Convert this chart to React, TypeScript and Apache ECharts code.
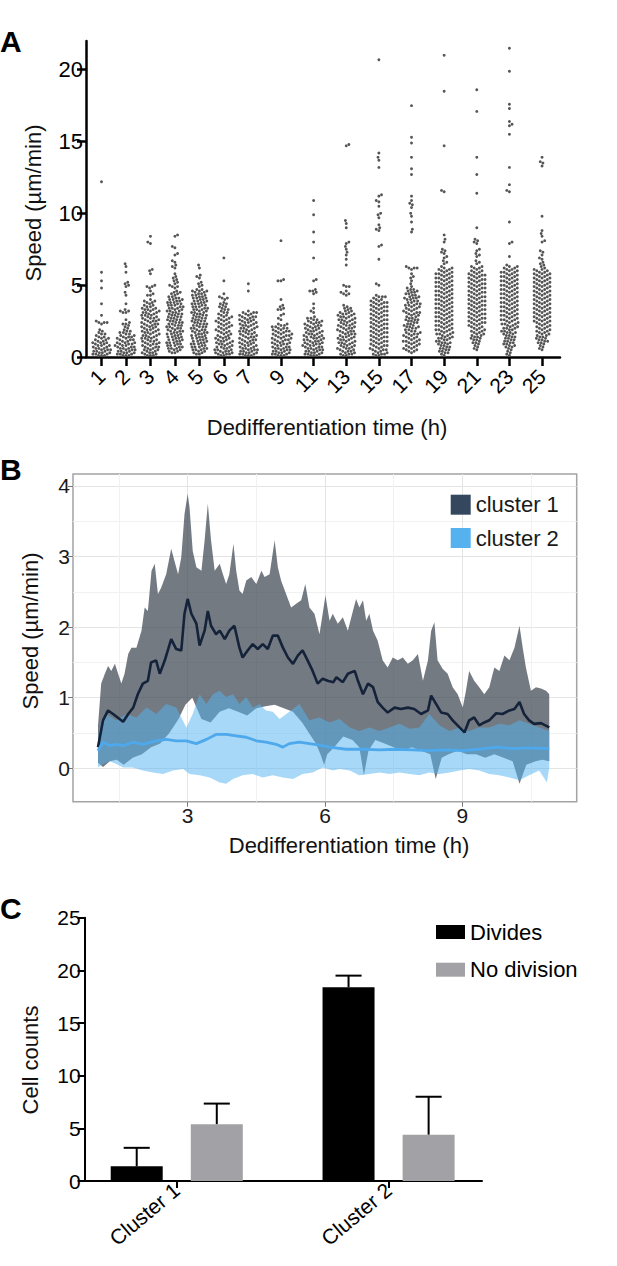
import React, { useEffect, useRef } from 'react';
import * as echarts from 'echarts';

const FONT = "'Liberation Sans', Arial, Helvetica, sans-serif";

// ---------------- Panel A: speed per dedifferentiation time (µm/min) ----------------
const hourLabels = ['1', '2', '3', '4', '5', '6', '7', '9', '11', '13', '15', '17', '19', '21', '23', '25'];

const speed1h = [12.2, 5.9, 5.3, 4.8, 3.7, 2.9, 2.5, 2.4, 2.4, 2.4, 2.3, 1.9, 1.8, 1.7, 1.6, 1.6, 1.5, 1.4, 1.4, 1.3, 1.3, 1.2, 1.2, 1.1, 1.1, 1.0, 1.0, 1.0, 0.9, 0.9, 0.8, 0.8, 0.8, 0.7, 0.7, 0.6, 0.6, 0.6, 0.5, 0.5, 0.5, 0.4, 0.4, 0.4, 0.3, 0.3, 0.3, 0.2, 0.2, 0.2, 0.1, 0.1, 0.1];
const speed2h = [6.5, 6.3, 5.9, 5.2, 5.1, 5.0, 4.9, 4.5, 4.3, 3.7, 3.3, 3.2, 3.2, 3.1, 3.1, 2.6, 2.4, 2.3, 2.3, 2.2, 2.1, 2.0, 1.9, 1.8, 1.8, 1.7, 1.7, 1.6, 1.6, 1.5, 1.5, 1.4, 1.4, 1.4, 1.3, 1.3, 1.2, 1.2, 1.2, 1.1, 1.1, 1.0, 1.0, 1.0, 0.9, 0.9, 0.9, 0.8, 0.8, 0.8, 0.7, 0.7, 0.7, 0.6, 0.6, 0.6, 0.5, 0.5, 0.5, 0.4, 0.4, 0.4, 0.3, 0.3, 0.3, 0.2, 0.2, 0.2, 0.1, 0.1, 0.1];
const speed3h = [8.4, 8.0, 7.9, 6.1, 6.0, 5.8, 5.0, 4.9, 4.9, 4.8, 4.6, 4.4, 4.3, 4.3, 4.0, 3.9, 3.9, 3.8, 3.8, 3.7, 3.6, 3.6, 3.5, 3.5, 3.4, 3.4, 3.3, 3.3, 3.3, 3.2, 3.2, 3.1, 3.1, 3.1, 3.0, 3.0, 2.9, 2.9, 2.9, 2.8, 2.8, 2.7, 2.7, 2.7, 2.6, 2.6, 2.5, 2.5, 2.5, 2.4, 2.4, 2.3, 2.3, 2.3, 2.2, 2.2, 2.1, 2.1, 2.1, 2.0, 2.0, 1.9, 1.9, 1.9, 1.8, 1.8, 1.7, 1.7, 1.7, 1.6, 1.6, 1.5, 1.5, 1.5, 1.4, 1.4, 1.3, 1.3, 1.3, 1.2, 1.2, 1.1, 1.1, 1.1, 1.0, 1.0, 0.9, 0.9, 0.9, 0.8, 0.8, 0.7, 0.7, 0.7, 0.6, 0.6, 0.5, 0.5, 0.5, 0.4, 0.4, 0.3, 0.3, 0.3, 0.2, 0.2, 0.1, 0.1, 0.1];
const speed4h = [8.5, 8.4, 7.7, 7.6, 7.2, 7.1, 6.7, 6.6, 6.4, 6.3, 6.2, 5.8, 5.6, 5.5, 5.4, 5.3, 5.2, 5.1, 5.0, 4.9, 4.9, 4.8, 4.6, 4.5, 4.5, 4.4, 4.4, 4.3, 4.2, 4.2, 4.1, 4.1, 4.0, 4.0, 4.0, 3.9, 3.9, 3.8, 3.8, 3.8, 3.7, 3.7, 3.6, 3.6, 3.6, 3.5, 3.5, 3.4, 3.4, 3.4, 3.3, 3.3, 3.2, 3.2, 3.2, 3.1, 3.1, 3.0, 3.0, 3.0, 2.9, 2.9, 2.8, 2.8, 2.8, 2.7, 2.7, 2.6, 2.6, 2.6, 2.5, 2.5, 2.4, 2.4, 2.4, 2.3, 2.3, 2.2, 2.2, 2.2, 2.1, 2.1, 2.0, 2.0, 2.0, 1.9, 1.9, 1.8, 1.8, 1.8, 1.7, 1.7, 1.6, 1.6, 1.6, 1.5, 1.5, 1.4, 1.4, 1.4, 1.3, 1.3, 1.2, 1.2, 1.2, 1.1, 1.1, 1.0, 1.0, 1.0, 0.9, 0.9, 0.8, 0.8, 0.8, 0.7, 0.7, 0.6, 0.6, 0.6, 0.5, 0.5, 0.4, 0.4, 0.3, 0.3];
const speed5h = [6.4, 6.2, 5.7, 5.6, 5.5, 5.2, 5.1, 5.0, 4.9, 4.7, 4.7, 4.6, 4.6, 4.6, 4.5, 4.5, 4.4, 4.4, 4.3, 4.3, 4.3, 4.2, 4.2, 4.1, 4.1, 4.1, 4.0, 4.0, 3.9, 3.9, 3.9, 3.8, 3.8, 3.7, 3.7, 3.7, 3.6, 3.6, 3.5, 3.5, 3.5, 3.4, 3.4, 3.3, 3.3, 3.3, 3.2, 3.2, 3.1, 3.1, 3.1, 3.0, 3.0, 2.9, 2.9, 2.9, 2.8, 2.8, 2.7, 2.7, 2.7, 2.6, 2.6, 2.5, 2.5, 2.5, 2.4, 2.4, 2.3, 2.3, 2.3, 2.2, 2.2, 2.1, 2.1, 2.1, 2.0, 2.0, 1.9, 1.9, 1.9, 1.8, 1.8, 1.7, 1.7, 1.7, 1.6, 1.6, 1.5, 1.5, 1.5, 1.4, 1.4, 1.3, 1.3, 1.3, 1.2, 1.2, 1.1, 1.1, 1.1, 1.0, 1.0, 0.9, 0.9, 0.9, 0.8, 0.8, 0.7, 0.7, 0.7, 0.6, 0.6, 0.5, 0.5, 0.5, 0.4, 0.4, 0.3, 0.3, 0.2, 0.2];
const speed6h = [6.9, 5.3, 4.4, 4.2, 4.1, 4.1, 4.0, 3.8, 3.7, 3.7, 3.6, 3.5, 3.5, 3.4, 3.3, 3.3, 3.2, 3.1, 3.1, 3.0, 2.9, 2.9, 2.8, 2.8, 2.7, 2.7, 2.6, 2.6, 2.5, 2.5, 2.4, 2.4, 2.3, 2.3, 2.2, 2.2, 2.1, 2.1, 2.0, 2.0, 1.9, 1.9, 1.8, 1.8, 1.7, 1.7, 1.6, 1.6, 1.5, 1.5, 1.4, 1.4, 1.3, 1.3, 1.3, 1.2, 1.2, 1.1, 1.1, 1.1, 1.0, 1.0, 0.9, 0.9, 0.9, 0.8, 0.8, 0.7, 0.7, 0.7, 0.6, 0.6, 0.5, 0.5, 0.5, 0.4, 0.4, 0.4, 0.3, 0.3, 0.3, 0.2, 0.2, 0.2, 0.1, 0.1];
const speed7h = [5.1, 4.6, 3.2, 3.1, 3.1, 3.1, 3.0, 3.0, 2.9, 2.9, 2.8, 2.8, 2.8, 2.7, 2.7, 2.6, 2.6, 2.6, 2.5, 2.5, 2.4, 2.4, 2.4, 2.3, 2.3, 2.2, 2.2, 2.2, 2.1, 2.1, 2.0, 2.0, 2.0, 1.9, 1.9, 1.8, 1.8, 1.8, 1.7, 1.7, 1.6, 1.6, 1.6, 1.5, 1.5, 1.4, 1.4, 1.4, 1.3, 1.3, 1.2, 1.2, 1.2, 1.1, 1.1, 1.0, 1.0, 1.0, 0.9, 0.9, 0.8, 0.8, 0.8, 0.7, 0.7, 0.6, 0.6, 0.6, 0.5, 0.5, 0.5, 0.4, 0.4, 0.4, 0.3, 0.3, 0.3, 0.2, 0.2, 0.2, 0.1, 0.1, 0.1];
const speed9h = [8.1, 5.4, 5.3, 5.3, 4.0, 3.6, 3.5, 3.4, 3.3, 3.3, 3.0, 2.9, 2.7, 2.6, 2.3, 2.3, 2.2, 2.2, 2.1, 2.1, 2.0, 2.0, 2.0, 1.9, 1.9, 1.8, 1.8, 1.8, 1.7, 1.7, 1.6, 1.6, 1.6, 1.5, 1.5, 1.5, 1.4, 1.4, 1.3, 1.3, 1.3, 1.2, 1.2, 1.2, 1.1, 1.1, 1.0, 1.0, 1.0, 0.9, 0.9, 0.9, 0.8, 0.8, 0.7, 0.7, 0.7, 0.6, 0.6, 0.6, 0.5, 0.5, 0.5, 0.4, 0.4, 0.4, 0.3, 0.3, 0.3, 0.2, 0.2, 0.2, 0.1, 0.1, 0.1];
const speed11h = [10.9, 9.9, 8.7, 8.0, 6.9, 5.4, 5.3, 4.7, 4.6, 4.6, 4.5, 4.4, 3.7, 3.4, 3.2, 3.1, 2.8, 2.7, 2.7, 2.6, 2.6, 2.5, 2.5, 2.4, 2.4, 2.4, 2.3, 2.3, 2.2, 2.2, 2.2, 2.1, 2.1, 2.0, 2.0, 2.0, 1.9, 1.9, 1.8, 1.8, 1.8, 1.7, 1.7, 1.6, 1.6, 1.6, 1.5, 1.5, 1.5, 1.4, 1.4, 1.4, 1.3, 1.3, 1.3, 1.2, 1.2, 1.2, 1.1, 1.1, 1.1, 1.0, 1.0, 1.0, 0.9, 0.9, 0.9, 0.8, 0.8, 0.8, 0.7, 0.7, 0.7, 0.6, 0.6, 0.6, 0.5, 0.5, 0.5, 0.4, 0.4, 0.4, 0.3, 0.3, 0.3, 0.2, 0.2, 0.2, 0.1, 0.1, 0.1];
const speed13h = [14.8, 14.7, 9.5, 9.3, 9.0, 8.0, 7.9, 7.7, 7.5, 7.3, 7.1, 6.8, 6.4, 5.0, 4.9, 4.9, 4.6, 4.5, 4.4, 4.4, 4.3, 3.6, 3.5, 3.4, 3.4, 3.3, 3.2, 3.2, 3.1, 3.1, 3.0, 3.0, 3.0, 2.9, 2.9, 2.8, 2.8, 2.8, 2.7, 2.7, 2.6, 2.6, 2.6, 2.5, 2.5, 2.4, 2.4, 2.4, 2.3, 2.3, 2.2, 2.2, 2.2, 2.1, 2.1, 2.0, 2.0, 2.0, 1.9, 1.9, 1.8, 1.8, 1.8, 1.7, 1.7, 1.6, 1.6, 1.6, 1.5, 1.5, 1.4, 1.4, 1.4, 1.3, 1.3, 1.2, 1.2, 1.2, 1.1, 1.1, 1.0, 1.0, 1.0, 0.9, 0.9, 0.8, 0.8, 0.8, 0.7, 0.7, 0.6, 0.6, 0.6, 0.5, 0.5, 0.4, 0.4, 0.4, 0.3, 0.3, 0.2, 0.2, 0.2, 0.1, 0.1];
const speed15h = [20.7, 14.2, 13.9, 13.7, 13.2, 11.3, 11.2, 10.9, 10.8, 10.5, 10.0, 9.9, 9.7, 9.2, 9.0, 8.9, 8.8, 7.8, 7.7, 6.8, 5.1, 5.0, 4.3, 4.2, 4.2, 4.2, 4.1, 4.0, 4.0, 3.9, 3.9, 3.8, 3.8, 3.8, 3.7, 3.7, 3.6, 3.6, 3.5, 3.5, 3.5, 3.4, 3.4, 3.3, 3.3, 3.2, 3.2, 3.2, 3.1, 3.1, 3.0, 3.0, 2.9, 2.9, 2.9, 2.8, 2.8, 2.7, 2.7, 2.6, 2.6, 2.6, 2.5, 2.5, 2.4, 2.4, 2.3, 2.3, 2.3, 2.2, 2.2, 2.1, 2.1, 2.0, 2.0, 2.0, 1.9, 1.9, 1.8, 1.8, 1.7, 1.7, 1.7, 1.6, 1.6, 1.5, 1.5, 1.4, 1.4, 1.4, 1.3, 1.3, 1.2, 1.2, 1.1, 1.1, 1.1, 1.0, 1.0, 0.9, 0.9, 0.8, 0.8, 0.8, 0.7, 0.7, 0.6, 0.6, 0.5, 0.5, 0.5, 0.4, 0.4, 0.3, 0.3, 0.2, 0.2, 0.2, 0.1, 0.1];
const speed17h = [17.5, 15.3, 14.9, 13.9, 13.1, 12.7, 11.2, 10.9, 10.7, 10.6, 10.4, 10.0, 9.8, 9.4, 8.9, 8.7, 6.3, 6.2, 6.2, 6.2, 6.1, 5.8, 5.6, 5.5, 5.3, 5.1, 4.9, 4.8, 4.7, 4.7, 4.6, 4.6, 4.5, 4.5, 4.4, 4.4, 4.3, 4.3, 4.2, 4.2, 4.1, 4.1, 4.1, 4.0, 4.0, 3.9, 3.9, 3.8, 3.8, 3.7, 3.7, 3.6, 3.6, 3.6, 3.5, 3.5, 3.4, 3.4, 3.3, 3.3, 3.2, 3.2, 3.1, 3.1, 3.1, 3.0, 3.0, 2.9, 2.9, 2.8, 2.8, 2.7, 2.7, 2.6, 2.6, 2.6, 2.5, 2.5, 2.4, 2.4, 2.3, 2.3, 2.2, 2.2, 2.1, 2.1, 2.1, 2.0, 2.0, 1.9, 1.9, 1.8, 1.8, 1.7, 1.7, 1.6, 1.6, 1.6, 1.5, 1.5, 1.4, 1.4, 1.3, 1.3, 1.2, 1.2, 1.1, 1.1, 1.1, 1.0, 1.0, 0.9, 0.9, 0.8, 0.8, 0.7, 0.7, 0.6, 0.6, 0.5, 0.5, 0.4, 0.4, 0.3];
const speed19h = [21.0, 18.5, 14.7, 11.6, 11.5, 8.5, 8.2, 8.0, 7.5, 7.4, 7.3, 7.2, 7.0, 6.9, 6.7, 6.6, 6.5, 6.3, 6.2, 6.2, 6.1, 6.1, 6.0, 6.0, 5.9, 5.9, 5.8, 5.8, 5.8, 5.7, 5.7, 5.6, 5.6, 5.5, 5.5, 5.5, 5.4, 5.4, 5.3, 5.3, 5.2, 5.2, 5.2, 5.1, 5.1, 5.0, 5.0, 4.9, 4.9, 4.9, 4.8, 4.8, 4.7, 4.7, 4.6, 4.6, 4.6, 4.5, 4.5, 4.4, 4.4, 4.3, 4.3, 4.3, 4.2, 4.2, 4.1, 4.1, 4.0, 4.0, 4.0, 3.9, 3.9, 3.8, 3.8, 3.7, 3.7, 3.7, 3.6, 3.6, 3.5, 3.5, 3.4, 3.4, 3.4, 3.3, 3.3, 3.2, 3.2, 3.1, 3.1, 3.1, 3.0, 3.0, 2.9, 2.9, 2.8, 2.8, 2.8, 2.7, 2.7, 2.6, 2.6, 2.5, 2.5, 2.5, 2.4, 2.4, 2.3, 2.3, 2.2, 2.2, 2.2, 2.1, 2.1, 2.0, 2.0, 1.9, 1.9, 1.9, 1.8, 1.8, 1.7, 1.7, 1.6, 1.6, 1.6, 1.5, 1.5, 1.4, 1.4, 1.3, 1.3, 1.3, 1.2, 1.2, 1.1, 1.1, 1.0, 1.0, 1.0, 0.9, 0.9, 0.8, 0.8, 0.7, 0.7, 0.6, 0.6, 0.5, 0.5, 0.4, 0.4, 0.3, 0.3, 0.2, 0.1];
const speed21h = [18.6, 17.1, 13.9, 12.7, 11.4, 9.0, 8.2, 8.1, 8.0, 7.9, 7.5, 7.4, 7.2, 7.1, 7.0, 6.7, 6.6, 6.5, 6.3, 6.3, 6.2, 6.2, 6.1, 6.0, 6.0, 5.9, 5.9, 5.8, 5.8, 5.7, 5.7, 5.7, 5.6, 5.6, 5.5, 5.5, 5.4, 5.4, 5.4, 5.3, 5.3, 5.2, 5.2, 5.1, 5.1, 5.1, 5.0, 5.0, 4.9, 4.9, 4.8, 4.8, 4.8, 4.7, 4.7, 4.6, 4.6, 4.5, 4.5, 4.5, 4.4, 4.4, 4.3, 4.3, 4.2, 4.2, 4.2, 4.1, 4.1, 4.0, 4.0, 3.9, 3.9, 3.9, 3.8, 3.8, 3.7, 3.7, 3.6, 3.6, 3.6, 3.5, 3.5, 3.4, 3.4, 3.3, 3.3, 3.3, 3.2, 3.2, 3.1, 3.1, 3.0, 3.0, 3.0, 2.9, 2.9, 2.8, 2.8, 2.7, 2.7, 2.7, 2.6, 2.6, 2.5, 2.5, 2.4, 2.4, 2.4, 2.3, 2.3, 2.2, 2.2, 2.1, 2.1, 2.0, 2.0, 1.9, 1.9, 1.8, 1.8, 1.7, 1.7, 1.6, 1.6, 1.5, 1.5, 1.4, 1.4, 1.3, 1.3, 1.2, 1.2, 1.1, 1.0, 1.0, 0.9, 0.8, 0.7, 0.6, 0.5];
const speed23h = [21.5, 19.9, 17.6, 17.3, 16.4, 16.2, 16.1, 15.5, 13.2, 12.0, 11.6, 11.5, 9.4, 8.0, 7.9, 7.0, 6.4, 6.3, 6.3, 6.2, 6.2, 6.1, 6.1, 6.0, 6.0, 5.9, 5.9, 5.9, 5.8, 5.8, 5.7, 5.7, 5.6, 5.6, 5.6, 5.5, 5.5, 5.4, 5.4, 5.3, 5.3, 5.3, 5.2, 5.2, 5.1, 5.1, 5.0, 5.0, 5.0, 4.9, 4.9, 4.8, 4.8, 4.7, 4.7, 4.7, 4.6, 4.6, 4.5, 4.5, 4.4, 4.4, 4.4, 4.3, 4.3, 4.2, 4.2, 4.1, 4.1, 4.1, 4.0, 4.0, 3.9, 3.9, 3.8, 3.8, 3.8, 3.7, 3.7, 3.6, 3.6, 3.5, 3.5, 3.5, 3.4, 3.4, 3.3, 3.3, 3.2, 3.2, 3.2, 3.1, 3.1, 3.0, 3.0, 2.9, 2.9, 2.9, 2.8, 2.8, 2.7, 2.7, 2.6, 2.6, 2.6, 2.5, 2.5, 2.4, 2.4, 2.3, 2.3, 2.3, 2.2, 2.2, 2.1, 2.1, 2.0, 2.0, 2.0, 1.9, 1.9, 1.8, 1.8, 1.7, 1.7, 1.7, 1.6, 1.6, 1.5, 1.5, 1.4, 1.4, 1.3, 1.3, 1.2, 1.2, 1.1, 1.1, 1.0, 1.0, 0.9, 0.9, 0.8, 0.8, 0.7, 0.7, 0.6, 0.5, 0.4, 0.3, 0.2, 0.1];
const speed25h = [13.9, 13.6, 13.5, 13.3, 9.8, 8.8, 8.6, 8.4, 8.1, 8.0, 7.4, 7.3, 7.1, 6.9, 6.8, 6.6, 6.5, 6.4, 6.3, 6.2, 6.1, 6.1, 6.0, 6.0, 5.9, 5.9, 5.8, 5.8, 5.8, 5.7, 5.7, 5.6, 5.6, 5.5, 5.5, 5.5, 5.4, 5.4, 5.3, 5.3, 5.2, 5.2, 5.2, 5.1, 5.1, 5.0, 5.0, 4.9, 4.9, 4.9, 4.8, 4.8, 4.7, 4.7, 4.6, 4.6, 4.6, 4.5, 4.5, 4.4, 4.4, 4.3, 4.3, 4.3, 4.2, 4.2, 4.1, 4.1, 4.0, 4.0, 4.0, 3.9, 3.9, 3.8, 3.8, 3.7, 3.7, 3.7, 3.6, 3.6, 3.5, 3.5, 3.4, 3.4, 3.4, 3.3, 3.3, 3.2, 3.2, 3.1, 3.1, 3.1, 3.0, 3.0, 2.9, 2.9, 2.8, 2.8, 2.8, 2.7, 2.7, 2.6, 2.6, 2.5, 2.5, 2.5, 2.4, 2.4, 2.3, 2.3, 2.2, 2.2, 2.1, 2.1, 2.0, 2.0, 1.9, 1.9, 1.8, 1.8, 1.7, 1.7, 1.6, 1.6, 1.5, 1.5, 1.4, 1.4, 1.3, 1.3, 1.2, 1.2, 1.1, 1.1, 1.0, 1.0, 0.9, 0.8, 0.7, 0.6, 0.5];

const speedGroups = [speed1h, speed2h, speed3h, speed4h, speed5h, speed6h, speed7h, speed9h, speed11h, speed13h, speed15h, speed17h, speed19h, speed21h, speed23h, speed25h];
const speedTicks = [0, 5, 10, 15, 20];

// ---------------- Panel B: mean speed and spread per cluster, [hour, µm/min] ----------------
const c1Mean = [[1.04, 0.3], [1.15, 0.68], [1.26, 0.82], [1.37, 0.77], [1.51, 0.7], [1.59, 0.66], [1.7, 0.77], [1.81, 0.86], [1.91, 1.05], [2.02, 1.2], [2.13, 1.24], [2.2, 1.5], [2.31, 1.53], [2.39, 1.34], [2.5, 1.53], [2.64, 1.83], [2.75, 1.69], [2.86, 1.67], [2.93, 2.19], [3.0, 2.4], [3.08, 2.19], [3.19, 2.05], [3.26, 1.74], [3.37, 1.95], [3.44, 2.23], [3.51, 2.02], [3.62, 1.9], [3.7, 1.95], [3.81, 1.83], [3.91, 1.95], [4.02, 2.02], [4.13, 1.71], [4.2, 1.57], [4.31, 1.67], [4.42, 1.76], [4.53, 1.69], [4.64, 1.76], [4.75, 1.69], [4.86, 1.88], [4.97, 1.88], [5.08, 1.71], [5.19, 1.57], [5.3, 1.48], [5.41, 1.6], [5.51, 1.67], [5.62, 1.53], [5.73, 1.38], [5.84, 1.2], [5.95, 1.27], [6.06, 1.24], [6.18, 1.22], [6.25, 1.29], [6.39, 1.22], [6.5, 1.34], [6.65, 1.38], [6.72, 1.24], [6.83, 1.05], [6.94, 1.2], [7.05, 1.15], [7.15, 0.94], [7.26, 0.86], [7.37, 0.79], [7.52, 0.86], [7.66, 0.84], [7.81, 0.86], [7.95, 0.84], [8.1, 0.77], [8.25, 0.82], [8.32, 1.03], [8.43, 0.91], [8.54, 0.79], [8.68, 0.77], [8.79, 0.68], [8.94, 0.58], [9.05, 0.51], [9.15, 0.68], [9.26, 0.72], [9.37, 0.61], [9.48, 0.65], [9.59, 0.68], [9.74, 0.78], [9.88, 0.77], [10.03, 0.82], [10.14, 0.84], [10.25, 0.94], [10.35, 0.77], [10.46, 0.68], [10.57, 0.63], [10.72, 0.64], [10.9, 0.58]];
const c1Upper = [[1.04, 0.6], [1.11, 1.2], [1.19, 1.34], [1.26, 1.45], [1.33, 1.38], [1.41, 1.48], [1.48, 1.34], [1.55, 1.2], [1.62, 1.34], [1.7, 1.62], [1.77, 1.71], [1.88, 1.71], [1.99, 1.95], [2.06, 2.28], [2.13, 2.23], [2.21, 2.8], [2.28, 2.9], [2.35, 2.47], [2.42, 2.56], [2.53, 2.75], [2.64, 3.11], [2.71, 2.94], [2.79, 2.75], [2.86, 2.99], [2.93, 3.6], [3.0, 3.89], [3.04, 3.7], [3.11, 3.08], [3.19, 2.85], [3.3, 2.8], [3.37, 3.23], [3.44, 3.75], [3.51, 3.23], [3.59, 2.8], [3.7, 2.9], [3.77, 2.75], [3.84, 2.61], [3.91, 2.75], [4.0, 3.18], [4.06, 2.8], [4.13, 2.52], [4.2, 2.47], [4.28, 2.66], [4.39, 2.71], [4.5, 2.61], [4.61, 2.8], [4.68, 2.71], [4.79, 2.75], [4.9, 3.23], [4.97, 2.85], [5.04, 2.66], [5.15, 2.47], [5.26, 2.28], [5.37, 2.33], [5.48, 2.38], [5.57, 2.61], [5.66, 2.28], [5.77, 2.19], [5.88, 1.9], [6.01, 2.45], [6.1, 2.09], [6.17, 2.19], [6.28, 2.05], [6.39, 2.14], [6.5, 1.95], [6.61, 2.23], [6.68, 2.4], [6.75, 2.28], [6.83, 2.38], [6.9, 2.09], [6.97, 2.19], [7.05, 1.95], [7.15, 1.81], [7.26, 1.53], [7.37, 1.43], [7.48, 1.57], [7.59, 1.53], [7.7, 1.57], [7.81, 1.48], [7.92, 1.53], [8.03, 1.62], [8.14, 1.24], [8.25, 1.53], [8.32, 1.95], [8.39, 2.07], [8.46, 1.53], [8.57, 1.41], [8.68, 1.34], [8.79, 1.15], [8.9, 1.05], [9.01, 0.86], [9.08, 1.1], [9.15, 1.38], [9.26, 1.24], [9.37, 1.15], [9.48, 1.05], [9.59, 1.15], [9.7, 1.43], [9.81, 1.38], [9.92, 1.6], [10.03, 1.53], [10.14, 1.71], [10.25, 2.02], [10.32, 1.71], [10.39, 1.43], [10.5, 1.1], [10.61, 1.15], [10.72, 1.13], [10.83, 1.1], [10.9, 1.05]];
const c1Lower = [[1.04, 0.08], [1.15, 0.02], [1.3, 0.1], [1.45, 0.12], [1.6, 0.05], [1.8, 0.15], [2.0, 0.2], [2.2, 0.3], [2.4, 0.35], [2.6, 0.5], [2.8, 0.7], [2.95, 0.9], [3.1, 1.0], [3.2, 0.85], [3.3, 0.7], [3.5, 0.65], [3.7, 0.8], [3.9, 0.85], [4.1, 0.8], [4.3, 0.75], [4.5, 0.85], [4.7, 0.88], [4.9, 0.9], [5.1, 0.85], [5.3, 0.8], [5.5, 0.65], [5.65, 0.5], [5.8, 0.35], [5.9, 0.2], [5.98, 0.05], [6.05, 0.2], [6.2, 0.3], [6.4, 0.45], [6.6, 0.4], [6.75, 0.3], [6.85, -0.1], [6.95, 0.25], [7.1, 0.4], [7.3, 0.35], [7.5, 0.3], [7.7, 0.25], [7.9, 0.3], [8.1, 0.25], [8.3, 0.2], [8.42, -0.15], [8.55, 0.15], [8.7, 0.2], [8.9, 0.25], [9.1, 0.2], [9.3, 0.2], [9.5, 0.15], [9.7, 0.2], [9.9, 0.15], [10.1, 0.1], [10.25, -0.22], [10.4, 0.05], [10.6, 0.1], [10.75, 0.12], [10.9, 0.1]];
const c2Mean = [[1.04, 0.25], [1.15, 0.37], [1.3, 0.32], [1.44, 0.34], [1.59, 0.32], [1.8, 0.37], [2.02, 0.34], [2.31, 0.39], [2.53, 0.41], [2.75, 0.39], [2.97, 0.39], [3.19, 0.35], [3.41, 0.41], [3.62, 0.48], [3.84, 0.48], [4.06, 0.46], [4.28, 0.44], [4.5, 0.39], [4.71, 0.37], [4.93, 0.34], [5.08, 0.3], [5.22, 0.35], [5.44, 0.37], [5.66, 0.35], [5.88, 0.33], [6.1, 0.3], [6.46, 0.27], [6.83, 0.27], [7.19, 0.26], [7.55, 0.27], [7.92, 0.26], [8.28, 0.25], [8.65, 0.26], [9.01, 0.25], [9.37, 0.27], [9.74, 0.3], [10.1, 0.28], [10.46, 0.29], [10.9, 0.28]];
const c2Upper = [[1.04, 0.44], [1.11, 0.68], [1.22, 0.77], [1.44, 0.68], [1.66, 0.77], [1.88, 0.72], [2.1, 0.86], [2.31, 0.77], [2.53, 0.91], [2.75, 0.86], [2.97, 0.58], [3.11, 0.77], [3.26, 1.05], [3.41, 0.91], [3.55, 1.05], [3.7, 1.1], [3.84, 1.01], [3.99, 1.05], [4.13, 0.91], [4.28, 1.01], [4.42, 0.86], [4.57, 0.91], [4.71, 0.82], [4.86, 0.8], [5.01, 0.7], [5.22, 0.8], [5.44, 0.91], [5.66, 0.68], [5.88, 0.72], [6.1, 0.65], [6.32, 0.7], [6.54, 0.58], [6.75, 0.53], [6.97, 0.58], [7.19, 0.53], [7.41, 0.58], [7.63, 0.63], [7.85, 0.56], [8.06, 0.58], [8.28, 0.77], [8.5, 0.61], [8.72, 0.53], [8.94, 0.58], [9.15, 0.53], [9.37, 0.58], [9.59, 0.58], [9.81, 0.63], [10.03, 0.61], [10.25, 0.68], [10.46, 0.63], [10.68, 0.58], [10.9, 0.53]];
const c2Lower = [[1.04, 0.01], [1.15, 0.06], [1.3, 0.1], [1.44, 0.06], [1.59, 0.01], [1.8, 0.01], [2.02, -0.03], [2.24, -0.06], [2.46, -0.08], [2.68, -0.03], [2.9, -0.01], [3.04, -0.08], [3.26, -0.1], [3.48, -0.13], [3.7, -0.2], [3.84, -0.22], [3.99, -0.15], [4.2, -0.1], [4.42, -0.08], [4.64, -0.13], [4.86, -0.1], [5.08, -0.13], [5.3, -0.15], [5.51, -0.08], [5.73, -0.06], [5.95, 0.01], [6.17, -0.03], [6.32, -0.01], [6.54, -0.03], [6.75, -0.1], [6.97, -0.08], [7.19, -0.06], [7.41, -0.08], [7.63, -0.06], [7.85, -0.08], [8.06, -0.1], [8.28, -0.06], [8.5, -0.08], [8.72, -0.06], [8.94, -0.03], [9.15, -0.01], [9.37, -0.03], [9.59, -0.08], [9.81, -0.1], [10.03, -0.13], [10.25, -0.17], [10.46, -0.1], [10.68, -0.03], [10.85, -0.2], [10.9, 0.01]];
const timeTicks = [3, 6, 9];
const timeMinor = [1.5, 4.5, 7.5, 10.5];
const speedTicksB = [0, 1, 2, 3, 4];
const speedMinorB = [0.5, 1.5, 2.5, 3.5];

// ---------------- Panel C: cell counts ----------------
const clusterNames = ['Cluster 1', 'Cluster 2'];
const dividesMean = [1.4, 18.4];
const dividesSD = [1.75, 1.1];
const noDivisionMean = [5.4, 4.4];
const noDivisionSD = [1.95, 3.6];

function swarmOffsets(ys: number[], d: number): number[] {
  const idx = ys.map((_, i) => i).sort((a, b) => ys[b] - ys[a] || a - b);
  const placed: { x: number; y: number }[] = [];
  const out = new Array(ys.length).fill(0);
  const d2 = d * d;
  let flip = 1;
  for (const i of idx) {
    const y = ys[i];
    const near = placed.filter((p) => Math.abs(p.y - y) < d);
    const cands = [0];
    for (const p of near) {
      const dx = Math.sqrt(Math.max(0, d2 - (p.y - y) * (p.y - y)));
      cands.push(p.x + dx, p.x - dx);
    }
    cands.sort((a, b) => Math.abs(a) - Math.abs(b) || (a - b) * flip);
    let chosen = 0;
    for (const c of cands) {
      if (near.every((p) => (p.x - c) * (p.x - c) + (p.y - y) * (p.y - y) >= d2 - 1e-3)) {
        chosen = c;
        break;
      }
    }
    if (chosen !== 0) flip = -flip;
    out[i] = chosen;
    placed.push({ x: chosen, y });
  }
  return out;
}

export default function App() {
  const ref = useRef<HTMLDivElement>(null);

  useEffect(() => {
    document.body.style.margin = '0';
    if (!ref.current) return;
    const chart = echarts.init(ref.current, null, { renderer: 'svg' });

    const slots = hourLabels.map((_, i) => (i <= 6 ? i * 3 : 18 + (i - 6) * 4));
    const labelBySlot: Record<string, string> = {};
    slots.forEach((s, i) => (labelBySlot[String(s)] = hourLabels[i]));

    const ribbon = (upper: number[][], lower: number[][], fill: string, opacity: number) =>
      (params: any, api: any) => {
        const pts = upper.map((p) => api.coord(p)).concat(lower.slice().reverse().map((p) => api.coord(p)));
        return { type: 'polygon', shape: { points: pts }, style: { fill, opacity } };
      };

    const barRender = (offsetFrac: number, color: string) => (params: any, api: any) => {
      const i = api.value(0) as number;
      const m = api.value(1) as number;
      const sd = api.value(2) as number;
      const base = api.coord([i, 0]);
      const top = api.coord([i, m]);
      const errTop = api.coord([i, m + sd]);
      const unit = api.size([1, 0])[0];
      const cx = base[0] + offsetFrac * unit;
      const w = 0.2455 * unit;
      const cap = 0.123 * unit;
      return {
        type: 'group',
        children: [
          { type: 'rect', shape: { x: cx - w / 2, y: top[1], width: w, height: base[1] - top[1] }, style: { fill: color } },
          { type: 'line', shape: { x1: cx, y1: top[1], x2: cx, y2: errTop[1] }, style: { stroke: '#000', lineWidth: 2 } },
          { type: 'line', shape: { x1: cx - cap / 2, y1: errTop[1], x2: cx + cap / 2, y2: errTop[1] }, style: { stroke: '#000', lineWidth: 2 } },
        ],
      };
    };

    const titleText = (text: string, x: number, y: number, rotate = false) => ({
      type: 'text',
      x,
      y,
      rotation: rotate ? Math.PI / 2 : 0,
      style: { text, fontSize: 22, fontFamily: FONT, fill: '#111', align: 'center', verticalAlign: 'middle' },
    });
    const panelLetter = (text: string, y: number) => ({
      type: 'text',
      x: 0,
      y,
      style: { text, fontSize: 30, fontWeight: 'bold', fontFamily: FONT, fill: '#000', align: 'left', verticalAlign: 'top' },
    });

    const option: any = {
      animation: false,
      backgroundColor: '#ffffff',
      textStyle: { fontFamily: FONT },
      grid: [
        { left: 86, top: 41, width: 474, height: 316 },
        { left: 73, top: 474, width: 503.7, height: 327.7, show: true, borderColor: '#a3a3a3', borderWidth: 1.5, backgroundColor: 'transparent' },
        { left: 84.6, top: 917.7, width: 397.4, height: 263.3 },
      ],
      xAxis: [
        {
          type: 'value', gridIndex: 0, min: -1.9, max: 56.2,
          axisLine: { show: true, onZero: false, lineStyle: { color: '#000', width: 2.5 } },
          axisTick: { show: true, customValues: slots, length: 9, lineStyle: { color: '#000', width: 2.5 } },
          axisLabel: { customValues: slots, rotate: 45, margin: 16, fontSize: 21, color: '#000', fontFamily: FONT, formatter: (v: number) => labelBySlot[String(v)] || '' },
          splitLine: { show: false },
        },
        {
          type: 'value', gridIndex: 1, min: 0.494, max: 11.5,
          axisLine: { show: false, onZero: false },
          axisTick: { show: true, customValues: timeTicks, length: 5, lineStyle: { color: '#777' } },
          axisLabel: { customValues: timeTicks, margin: 3, fontSize: 21, color: '#1a1a1a', fontFamily: FONT },
          splitLine: { show: true, lineStyle: { color: '#e4e4e4', width: 1 } },
        },
        {
          type: 'value', gridIndex: 1, position: 'top', min: 0.494, max: 11.5,
          axisLine: { show: false, onZero: false },
          axisTick: { show: false, customValues: timeMinor },
          axisLabel: { show: false, customValues: timeMinor },
          splitLine: { show: true, lineStyle: { color: '#f1f1f1', width: 1 } },
        },
        {
          type: 'value', gridIndex: 2, min: -0.435, max: 1.441,
          axisLine: { show: true, onZero: false, lineStyle: { color: '#000', width: 2 } },
          axisTick: { show: true, customValues: [0, 1], length: 7, lineStyle: { color: '#000', width: 2 } },
          axisLabel: { customValues: [0, 1], rotate: 40, margin: 6, fontSize: 21, color: '#000', fontFamily: FONT, formatter: (v: number) => clusterNames[Math.round(v)] || '' },
          splitLine: { show: false },
        },
      ],
      yAxis: [
        {
          type: 'value', gridIndex: 0, min: 0, max: 22,
          axisLine: { show: true, onZero: false, lineStyle: { color: '#000', width: 2.5 } },
          axisTick: { show: true, customValues: speedTicks, length: 9, lineStyle: { color: '#000', width: 2.5 } },
          axisLabel: { customValues: speedTicks, margin: 3, fontSize: 22, color: '#000', fontFamily: FONT },
          splitLine: { show: false },
        },
        {
          type: 'value', gridIndex: 1, min: -0.473, max: 4.17,
          axisLine: { show: false, onZero: false },
          axisTick: { show: true, customValues: speedTicksB, length: 5, lineStyle: { color: '#777' } },
          axisLabel: { customValues: speedTicksB, margin: 3, fontSize: 21, color: '#1a1a1a', fontFamily: FONT },
          splitLine: { show: true, lineStyle: { color: '#e4e4e4', width: 1 } },
        },
        {
          type: 'value', gridIndex: 1, position: 'right', min: -0.473, max: 4.17,
          axisLine: { show: false, onZero: false },
          axisTick: { show: false, customValues: speedMinorB },
          axisLabel: { show: false, customValues: speedMinorB },
          splitLine: { show: true, lineStyle: { color: '#f1f1f1', width: 1 } },
        },
        {
          type: 'value', gridIndex: 2, min: 0, max: 25, interval: 5,
          axisLine: { show: true, onZero: false, lineStyle: { color: '#000', width: 2 } },
          axisTick: { show: true, length: 7, lineStyle: { color: '#000', width: 2 } },
          axisLabel: { margin: 4, fontSize: 21, color: '#000', fontFamily: FONT },
          splitLine: { show: false },
        },
      ],
      legend: [
        {
          data: [
            { name: 'cluster 1', itemStyle: { color: '#34475e', opacity: 1 } },
            { name: 'cluster 2', itemStyle: { color: '#56b1ef', opacity: 1 } },
          ],
          orient: 'vertical', left: 450.7, top: 492.7, padding: 0,
          itemWidth: 20, itemHeight: 20, itemGap: 9.3, icon: 'rect', selectedMode: false,
          textStyle: { fontSize: 22, fontFamily: FONT, color: '#1a1a1a', lineHeight: 24 },
        },
        {
          data: [
            { name: 'Divides', itemStyle: { color: '#000000' } },
            { name: 'No division', itemStyle: { color: '#a2a2a6' } },
          ],
          orient: 'vertical', left: 436, top: 920, padding: 0,
          itemWidth: 29, itemHeight: 14, itemGap: 13.7, icon: 'rect', selectedMode: false,
          textStyle: { fontSize: 22, fontFamily: FONT, color: '#000', lineHeight: 24 },
        },
      ],
      series: [
        {
          type: 'custom', name: 'speed', xAxisIndex: 0, yAxisIndex: 0, silent: true,
          data: speedGroups.map((_, i) => [slots[i], i]),
          encode: { x: 0, y: 1 },
          renderItem: (params: any, api: any) => {
            const slot = api.value(0) as number;
            const gi = api.value(1) as number;
            const pts = speedGroups[gi].map((v) => api.coord([slot, v]));
            const offs = swarmOffsets(pts.map((p: number[]) => p[1]), 3.0);
            return {
              type: 'group',
              children: pts.map((p: number[], k: number) => ({
                type: 'circle',
                shape: { cx: p[0] + offs[k], cy: p[1], r: 1.45 },
                style: { fill: '#555555' },
              })),
            };
          },
        },
        {
          type: 'custom', name: 'cluster 1', xAxisIndex: 1, yAxisIndex: 1, silent: true, z: 2,
          itemStyle: { color: '#34475e' },
          data: [[c1Upper[0][0], c1Upper[0][1]]],
          encode: { x: 0, y: 1 },
          renderItem: ribbon(c1Upper, c1Lower, '#414854', 0.73),
        },
        {
          type: 'custom', name: 'cluster 2', xAxisIndex: 1, yAxisIndex: 1, silent: true, z: 3,
          itemStyle: { color: '#56b1ef' },
          data: [[c2Upper[0][0], c2Upper[0][1]]],
          encode: { x: 0, y: 1 },
          renderItem: ribbon(c2Upper, c2Lower, '#56b4f0', 0.52),
        },
        {
          type: 'line', xAxisIndex: 1, yAxisIndex: 1, silent: true, z: 4,
          data: c1Mean, showSymbol: false, symbol: 'none',
          lineStyle: { color: '#14223a', width: 2.6 },
        },
        {
          type: 'line', xAxisIndex: 1, yAxisIndex: 1, silent: true, z: 5,
          data: c2Mean, showSymbol: false, symbol: 'none',
          lineStyle: { color: '#4ea8ec', width: 2.8 },
        },
        {
          type: 'custom', name: 'Divides', xAxisIndex: 3, yAxisIndex: 3, silent: true,
          itemStyle: { color: '#000000' },
          data: dividesMean.map((m, i) => [i, m, dividesSD[i]]),
          encode: { x: 0, y: 1 },
          renderItem: barRender(-0.189, '#000000'),
        },
        {
          type: 'custom', name: 'No division', xAxisIndex: 3, yAxisIndex: 3, silent: true,
          itemStyle: { color: '#a2a2a6' },
          data: noDivisionMean.map((m, i) => [i, m, noDivisionSD[i]]),
          encode: { x: 0, y: 1 },
          renderItem: barRender(0.189, '#a2a2a6'),
        },
      ],
      graphic: [
        panelLetter('A', 26),
        panelLetter('B', 454),
        panelLetter('C', 893),
        titleText('Speed (µm/min)', 33, 203, true),
        titleText('Dedifferentiation time (h)', 327, 427),
        titleText('Speed (µm/min)', 30, 631, true),
        titleText('Dedifferentiation time (h)', 349, 845),
        titleText('Cell counts', 30, 1060, true),
      ],
    };

    chart.setOption(option);
    return () => chart.dispose();
  }, []);

  return <div ref={ref} style={{ width: 617, height: 1266 }} />;
}
